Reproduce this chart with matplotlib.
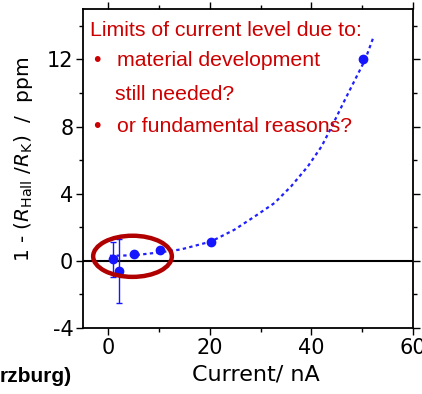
import matplotlib
matplotlib.use("Agg")
import matplotlib.pyplot as plt
from matplotlib.patches import Ellipse
from matplotlib.ticker import MultipleLocator

plt.rcParams['font.family'] = ['DejaVu Sans']
plt.rcParams['axes.unicode_minus'] = False
plt.rcParams['mathtext.fontset'] = 'dejavusans'

# measured points
current = [1.0, 2.1, 5.1, 10.2, 20.2, 50.2]
deviation = [0.1, -0.6, 0.38, 0.66, 1.13, 12.0]
yerr = [1.05, 1.9, 0, 0, 0, 0]

# fit curve
fit_x = [0.3, 5, 10, 14.3, 20.2, 24.8, 28.8, 32.7, 36.0, 39.3, 42.0, 44.0, 46.6, 48.6, 50.6, 52.3]
fit_y = [0.3, 0.33, 0.5, 0.68, 1.15, 1.85, 2.64, 3.44, 4.44, 5.63, 6.82, 8.0, 9.6, 10.8, 12.0, 13.4]

fig = plt.figure(figsize=(4.22, 3.94), dpi=100)
ax = fig.add_axes([83/422, 1-328/394, 330/422, 319/394])

ax.axhline(0, color='black', lw=1.5, zorder=1)
ax.plot(fit_x, fit_y, color='#2020ff', lw=1.6, ls=(0, (1.5, 1.5)), zorder=2)
ax.errorbar(current, deviation, yerr=yerr, fmt='o', color='#1515ff',
            ms=6, elinewidth=1.0, capsize=2.5, capthick=1.0, zorder=3)

ell = Ellipse((4.75, 0.27), 15.5, 2.45, fill=False, edgecolor='#b00000', lw=3.2, zorder=4)
ax.add_patch(ell)

ax.set_xlim(-5, 60)
ax.set_ylim(-4, 15)
ax.xaxis.set_major_locator(MultipleLocator(20))
ax.xaxis.set_minor_locator(MultipleLocator(10))
ax.yaxis.set_major_locator(MultipleLocator(4))
ax.yaxis.set_minor_locator(MultipleLocator(2))
ax.tick_params(which='both', direction='out', top=True, right=True,
               labeltop=False, labelright=False, width=1.0)
ax.tick_params(which='major', length=5, labelsize=15, pad=2)
ax.tick_params(which='minor', length=3)
for s in ax.spines.values():
    s.set_linewidth(1.3)

ax.set_xlabel('Current/ nA', fontsize=16)
ax.xaxis.set_label_coords(0.525, -0.115)
ax.set_ylabel(r'1 - ($R_{\mathrm{Hall}}$ /$R_{\mathrm{K}}$)  /  ppm', fontsize=14.5)
ax.yaxis.set_label_coords(-0.145, 0.527)

red = '#cc0000'
tfam = ['Liberation Sans', 'DejaVu Sans']
kw = dict(transform=fig.transFigure, color=red, fontsize=15.3, family=tfam, va='center', ha='left')
fig.text(90/422, 1-30/394, 'Limits of current level due to:', **kw)
fig.text(93/422, 1-60/394, '\u2022', **kw)
fig.text(117/422, 1-60/394, 'material development', **kw)
fig.text(115/422, 1-94/394, 'still needed?', **kw)
fig.text(93/422, 1-127/394, '\u2022', **kw)
fig.text(117/422, 1-127/394, 'or fundamental reasons?', **kw)

fig.text(0, 1-376/394, 'rzburg)', fontsize=15, ha='left', va='center',
         color='black', family=['Liberation Sans', 'DejaVu Sans'], weight='bold')

fig.savefig('out.png', dpi=100, facecolor='white')
